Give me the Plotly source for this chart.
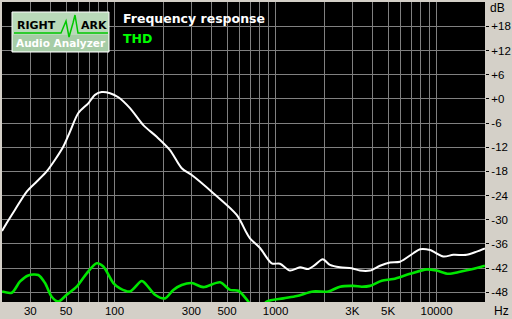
import plotly.graph_objects as go

# ---- data ----
fr_freq = [20, 21.4, 24.1, 28.5, 32.9, 37.9, 42.7, 48.1, 52.9, 59.6, 68.7, 75.6, 83.2, 93.8,
           105.6, 124.7, 150.9, 182.8, 221, 261.4, 301.7, 410.6, 574, 662, 694, 801, 947,
           1066, 1230, 1419, 1598, 1759, 1964, 2179, 2514, 2972, 3346, 3862, 4454, 5140,
           5930, 7172, 7894, 9108, 11016, 12710, 15396, 17764, 20000]
fr_db = [-32.8, -30.8, -27.5, -23.0, -20.5, -18.0, -15.1, -11.8, -8.1, -3.5, -1.1, 1.0, 1.7, 1.4,
         0.4, -2.3, -6.5, -9.4, -12.7, -17.2, -18.9, -23.4, -28.8, -33.3, -34.6, -37.0, -40.8,
         -40.9, -42.6, -41.8, -42.2, -41.2, -39.8, -41.2, -41.8, -42.0, -42.6, -42.6, -41.4, -40.6,
         -40.4, -38.3, -37.3, -37.5, -39.1, -38.7, -38.7, -37.9, -37.1]

thd_freq = [20, 23.0, 25.9, 29.1, 33.6, 37.0, 40.7, 44.7, 50.4, 58.2, 67.2, 77.5, 85.2, 98.3,
            108.1, 124.7, 147.5, 158.4, 178.4, 205.8, 231.8, 261.4, 301.7, 355.9, 451.9, 521.5,
            587.4, 677.5, 740, 810, 881, 1117, 1354, 1716, 2126, 2514, 3041, 3430, 3862, 4564,
            5389, 6843, 8688, 10024, 11836, 13990, 16536, 20000]
thd_db = [-47.8, -48.1, -45.3, -43.8, -43.7, -45.7, -49.1, -50.3, -48.6, -46.6, -43.3, -40.8, -41.6, -45.7,
          -47.0, -47.8, -45.2, -46.2, -48.6, -49.5, -47.4, -46.2, -45.7, -46.7, -45.5, -47.4,
          -47.6, -50.3, -52.5, -52.0, -50.3, -49.5, -48.9, -47.8, -47.8, -46.6, -46.4, -46.6, -46.4, -45.1,
          -44.7, -43.4, -42.3, -42.6, -43.4, -42.9, -42.3, -41.4]

grid_freqs = [30, 40, 50, 60, 70, 80, 90, 100, 200, 300, 400, 500, 600, 700, 800, 900,
              1000, 2000, 3000, 4000, 5000, 6000, 7000, 8000, 9000, 10000]
x_labels = {30: "30", 50: "50", 100: "100", 300: "300", 500: "500", 1000: "1000",
            3000: "3K", 5000: "5K", 10000: "10000"}
y_ticks = [18, 12, 6, 0, -6, -12, -18, -24, -30, -36, -42, -48]
y_labels = ["+18", "+12", "+6", "+0", "-6", "-12", "-18", "-24", "-30", "-36", "-42", "-48"]

W, H = 512, 319
L, R, T, B = 2, 27, 2, 17
PW, PH = W - L - R, H - T - B


def px(x):
    return (x - L) / PW


def py(y):
    return (H - B - y) / PH


fig = go.Figure()
fig.add_trace(go.Scatter(x=thd_freq, y=thd_db, mode="lines",
                         line=dict(color="#00e600", width=2.6, shape="spline", smoothing=0.8),
                         hoverinfo="skip", showlegend=False))
fig.add_trace(go.Scatter(x=fr_freq, y=fr_db, mode="lines",
                         line=dict(color="#ffffff", width=2, shape="spline", smoothing=0.8),
                         hoverinfo="skip", showlegend=False))

fig.update_layout(
    width=W, height=H,
    margin=dict(l=L, r=R, t=T, b=B, pad=0),
    paper_bgcolor="#d4d0c8",
    plot_bgcolor="#000000",
    font=dict(family="Liberation Sans, Arial, sans-serif", size=11, color="#000000"),
    xaxis=dict(type="log", range=[1.30103, 4.30103], tickmode="array",
               tickvals=grid_freqs, ticktext=[x_labels.get(f, "") for f in grid_freqs],
               showgrid=True, gridcolor="#808080", gridwidth=1, zeroline=False,
               ticks="", showline=False, tickfont=dict(size=11.5), ticklabelstandoff=0),
    yaxis=dict(side="right", range=[-50.4, 24.05], tickmode="array",
               tickvals=y_ticks, ticktext=y_labels,
               showgrid=True, gridcolor="#808080", gridwidth=1, zeroline=False,
               ticks="outside", ticklen=3, tickcolor="#000000", showline=False,
               tickfont=dict(size=11.5)),
)

shapes = []
# logo box
shapes.append(dict(type="rect", xref="paper", yref="paper", x0=px(12), x1=px(109), y0=py(52), y1=py(12),
                   fillcolor="#b9d9b9", line=dict(color="#ffffff", width=1), layer="above"))
shapes.append(dict(type="rect", xref="paper", yref="paper", x0=px(13), x1=px(108), y0=py(51), y1=py(35),
                   fillcolor="#a6cca6", line=dict(width=0), layer="above"))
wave = [(14, 33), (61, 33), (66, 21), (69, 37), (73, 23), (75, 15), (78, 33), (108, 33)]
path = "M " + " L ".join(f"{px(a):.5f},{py(b):.5f}" for a, b in wave)
shapes.append(dict(type="path", xref="paper", yref="paper", path=path,
                   line=dict(color="#00c800", width=1.5), layer="above"))
fig.update_layout(shapes=shapes)

ann = []
ann.append(dict(text="<b>RIGHT</b>", x=px(15), y=py(25), xref="paper", yref="paper", xanchor="left",
                yanchor="middle", showarrow=False,
                font=dict(family="DejaVu Sans", size=11, color="#000000")))
ann.append(dict(text="<b>ARK</b>", x=px(79), y=py(25), xref="paper", yref="paper", xanchor="left",
                yanchor="middle", showarrow=False,
                font=dict(family="DejaVu Sans", size=11, color="#000000")))
ann.append(dict(text="<b>Audio Analyzer</b>", x=px(61), y=py(43), xref="paper", yref="paper",
                xanchor="center", yanchor="middle", showarrow=False,
                font=dict(family="DejaVu Sans", size=10.5, color="#ffffff")))
ann.append(dict(text="<b>Frequency response</b>", x=px(121), y=py(19), xref="paper", yref="paper",
                xanchor="left", yanchor="middle", showarrow=False,
                font=dict(family="DejaVu Sans", size=12.5, color="#ffffff")))
ann.append(dict(text="<b>THD</b>", x=px(121), y=py(38), xref="paper", yref="paper",
                xanchor="left", yanchor="middle", showarrow=False,
                font=dict(family="DejaVu Sans", size=12.5, color="#00ff00")))
ann.append(dict(text="dB", x=px(488), y=py(8), xref="paper", yref="paper",
                xanchor="left", yanchor="middle", showarrow=False,
                font=dict(size=12, color="#000000")))
ann.append(dict(text="Hz", x=px(492), y=py(311), xref="paper", yref="paper",
                xanchor="left", yanchor="middle", showarrow=False,
                font=dict(size=12, color="#000000")))
fig.update_layout(annotations=ann)

fig.write_html("out.html")
